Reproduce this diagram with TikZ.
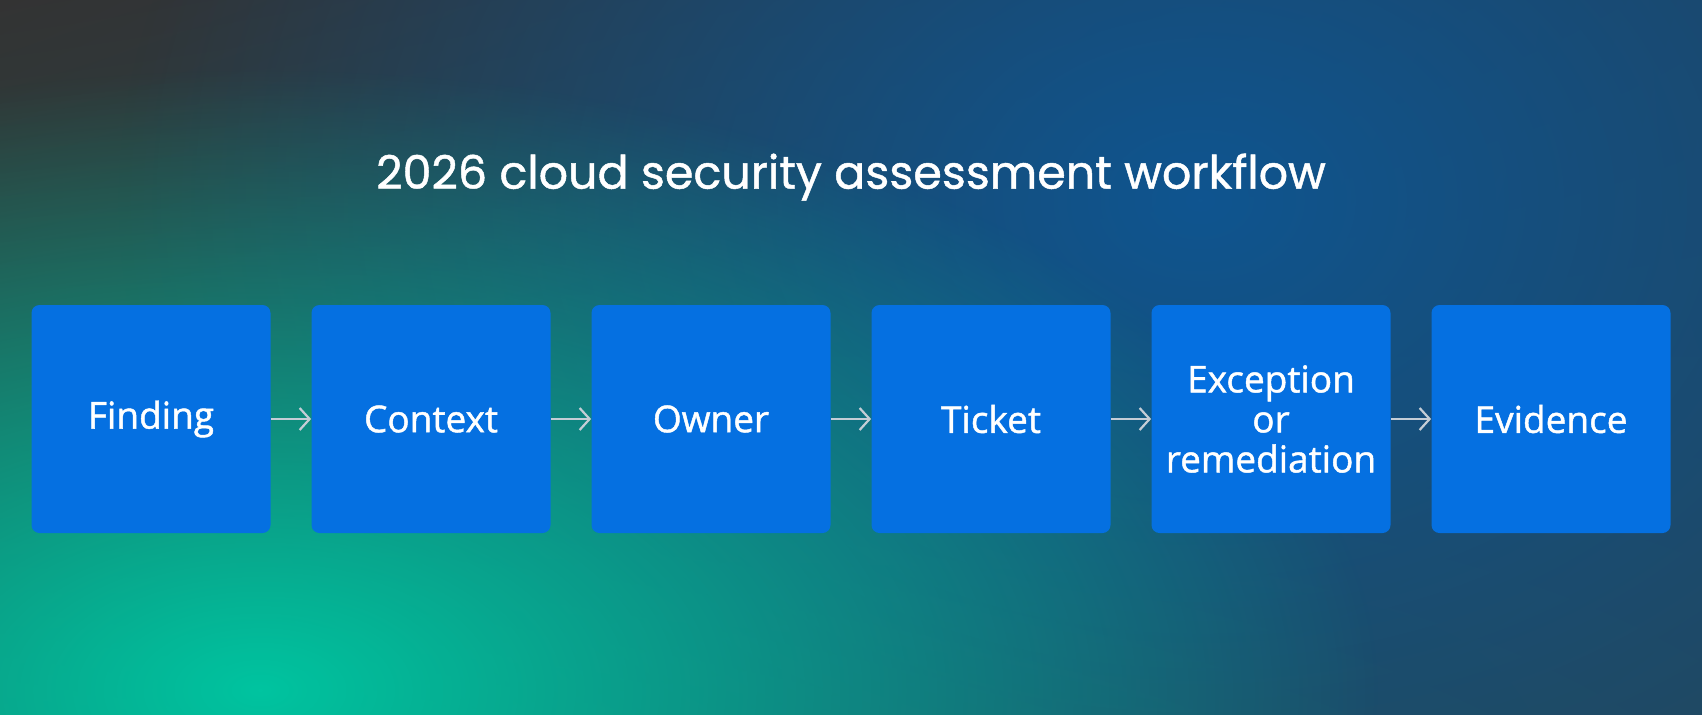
\documentclass[tikz,border=0pt]{standalone}
\usepackage{fontspec}
\setmainfont{Open Sans}[BoldFont=Open Sans, BoldFeatures={FakeBold=1.2}]
\newfontfamily\titlefont{Poppins}[BoldFont=Poppins, BoldFeatures={FakeBold=1.0}]
\usepackage{xcolor}
\usepackage{tikz}
\usetikzlibrary{arrows.meta,positioning,fadings,shadings}

\definecolor{bgtopleft}{HTML}{333333}
\definecolor{bgtopright}{HTML}{233F55}
\definecolor{bgbotleft}{HTML}{1F5252}
\definecolor{bgbotright}{HTML}{244658}
\definecolor{glowteal}{HTML}{00C4A0}
\definecolor{glowblue}{HTML}{0F5590}
\definecolor{boxblue}{HTML}{0570E1}
\definecolor{arrowgray}{HTML}{C4CDD6}

\tikzfading[name=glowfade, inner color=transparent!0, outer color=transparent!100]

\begin{document}
\begin{tikzpicture}[
    x=0.5pt, y=-0.5pt,
    stepbox/.style={rectangle, fill=boxblue, rounded corners=4pt, minimum width=119.5pt, minimum height=114pt, text width=114pt, align=center, inner sep=0pt, text=white, font=\bfseries\fontsize{18.5}{20}\selectfont},
    title/.style={text=white, font=\titlefont\bfseries\fontsize{23}{28}\selectfont},
    arrow/.style={-{Straight Barb[length=5pt, width=11pt]}, line width=1.1pt, draw=arrowgray}
]
\useasboundingbox (0,0) rectangle (1702,714);

% Background
\shade[upper left=bgtopleft, upper right=bgtopright, lower left=bgbotleft, lower right=bgbotright] (0,0) rectangle (1702,714);
\begin{scope}
    \clip (0,0) rectangle (1702,714);
    \fill[glowblue, path fading=glowfade] (1200,200) ellipse [x radius=540pt, y radius=400pt];
    \fill[glowteal, path fading=glowfade] (260,690) ellipse [x radius=560pt, y radius=310pt];
\end{scope}

% Title
\node[title] (title) at (851,177) {2026 cloud security assessment workflow};

% Steps
\node[stepbox] (finding) at (151,419) {Finding};
\node[stepbox] (context) at (431,419) {Context};
\node[stepbox] (owner) at (711,419) {Owner};
\node[stepbox] (ticket) at (991,419) {Ticket};
\node[stepbox] (exception) at (1271,419) {Exception\\or\\remediation};
\node[stepbox] (evidence) at (1551,419) {Evidence};

% Arrows
\draw[arrow] (finding) -- (context);
\draw[arrow] (context) -- (owner);
\draw[arrow] (owner) -- (ticket);
\draw[arrow] (ticket) -- (exception);
\draw[arrow] (exception) -- (evidence);

\end{tikzpicture}
\end{document}
